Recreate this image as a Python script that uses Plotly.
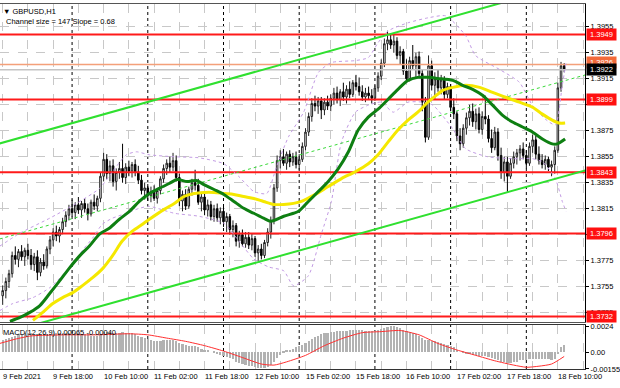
import plotly.graph_objects as go

# ---------------- data ----------------
bar_index = list(range(179))  # H1 bars, 0 = 9 Feb 02:00

opens = [1.3748, 1.3752, 1.3759, 1.3765, 1.3779, 1.3776, 1.3782, 1.3778, 1.3783, 1.3779,
         1.3772, 1.3778, 1.3766, 1.3774, 1.3771, 1.3784, 1.3791, 1.3797, 1.3794, 1.3799,
         1.3805, 1.3810, 1.3815, 1.3812, 1.3818, 1.3814, 1.3819, 1.3815, 1.3811, 1.3820,
         1.3817, 1.3823, 1.3840, 1.3853, 1.3842, 1.3848, 1.3836, 1.3843, 1.3846, 1.3839,
         1.3847, 1.3844, 1.3849, 1.3843, 1.3837, 1.3829, 1.3831, 1.3825, 1.3828, 1.3823,
         1.3829, 1.3838, 1.3846, 1.3850, 1.3847, 1.3852, 1.3839, 1.3821, 1.3826, 1.3817,
         1.3830, 1.3835, 1.3833, 1.3820, 1.3824, 1.3814, 1.3818, 1.3809, 1.3815, 1.3808,
         1.3813, 1.3805, 1.3809, 1.3799, 1.3802, 1.3790, 1.3795, 1.3788, 1.3793, 1.3787,
         1.3792, 1.3781, 1.3784, 1.3779, 1.3789, 1.3797, 1.3806, 1.3831, 1.3852, 1.3855,
         1.3850, 1.3857, 1.3851, 1.3855, 1.3849, 1.3853, 1.3863, 1.3874, 1.3886, 1.3896,
         1.3894, 1.3898, 1.3891, 1.3897, 1.3894, 1.3900, 1.3904, 1.3899, 1.3905, 1.3901,
         1.3907, 1.3903, 1.3912, 1.3909, 1.3905, 1.3901, 1.3904, 1.3902, 1.3900, 1.3908,
         1.3917, 1.3927, 1.3942, 1.3945, 1.3941, 1.3944, 1.3933, 1.3936, 1.3921, 1.3915,
         1.3929, 1.3925, 1.3932, 1.3919, 1.3897, 1.3870, 1.3925, 1.3910, 1.3915, 1.3908,
         1.3914, 1.3903, 1.3909, 1.3893, 1.3888, 1.3871, 1.3865, 1.3877, 1.3885, 1.3890,
         1.3882, 1.3888, 1.3876, 1.3886, 1.3884, 1.3869, 1.3862, 1.3874, 1.3856, 1.3843,
         1.3851, 1.3840, 1.3850, 1.3855, 1.3858, 1.3861, 1.3856, 1.3850, 1.3863, 1.3868,
         1.3857, 1.3852, 1.3849, 1.3853, 1.3847, 1.3849, 1.3860, 1.3908, 1.3925]

highs = [1.3756, 1.3762, 1.3768, 1.3782, 1.3786, 1.3784, 1.3787, 1.3785, 1.3788, 1.3784,
         1.3781, 1.3783, 1.3777, 1.3780, 1.3786, 1.3794, 1.3800, 1.3802, 1.3801, 1.3808,
         1.3813, 1.3818, 1.3822, 1.3820, 1.3824, 1.3821, 1.3823, 1.3819, 1.3822, 1.3826,
         1.3825, 1.3843, 1.3858, 1.3857, 1.3852, 1.3853, 1.3846, 1.3851, 1.3865, 1.3850,
         1.3852, 1.3851, 1.3853, 1.3848, 1.3841, 1.3835, 1.3834, 1.3832, 1.3833, 1.3831,
         1.3840, 1.3849, 1.3853, 1.3855, 1.3858, 1.3856, 1.3842, 1.3829, 1.3830, 1.3832,
         1.3838, 1.3845, 1.3838, 1.3828, 1.3827, 1.3822, 1.3821, 1.3818, 1.3819, 1.3816,
         1.3817, 1.3812, 1.3811, 1.3806, 1.3804, 1.3798, 1.3799, 1.3797, 1.3797, 1.3796,
         1.3794, 1.3787, 1.3788, 1.3791, 1.3800, 1.3809, 1.3834, 1.3856, 1.3860, 1.3861,
         1.3859, 1.3860, 1.3858, 1.3859, 1.3857, 1.3866, 1.3877, 1.3889, 1.3900, 1.3902,
         1.3901, 1.3901, 1.3900, 1.3902, 1.3903, 1.3908, 1.3909, 1.3907, 1.3912, 1.3910,
         1.3913, 1.3914, 1.3918, 1.3916, 1.3910, 1.3908, 1.3909, 1.3907, 1.3910, 1.3920,
         1.3930, 1.3946, 1.3952, 1.3950, 1.3949, 1.3947, 1.3940, 1.3938, 1.3930, 1.3932,
         1.3941, 1.3935, 1.3936, 1.3922, 1.3901, 1.3933, 1.3929, 1.3920, 1.3922, 1.3918,
         1.3917, 1.3912, 1.3911, 1.3900, 1.3890, 1.3877, 1.3880, 1.3889, 1.3895, 1.3896,
         1.3892, 1.3893, 1.3890, 1.3902, 1.3887, 1.3876, 1.3878, 1.3877, 1.3862, 1.3855,
         1.3855, 1.3854, 1.3859, 1.3861, 1.3864, 1.3866, 1.3860, 1.3866, 1.3872, 1.3871,
         1.3863, 1.3857, 1.3856, 1.3855, 1.3852, 1.3863, 1.3912, 1.3928, 1.3927]

lows = [1.3741, 1.3746, 1.3754, 1.3762, 1.3772, 1.3770, 1.3775, 1.3771, 1.3776, 1.3768,
        1.3767, 1.3760, 1.3763, 1.3768, 1.3769, 1.3780, 1.3786, 1.3790, 1.3789, 1.3796,
        1.3801, 1.3806, 1.3809, 1.3807, 1.3811, 1.3808, 1.3812, 1.3806, 1.3809, 1.3814,
        1.3813, 1.3820, 1.3836, 1.3838, 1.3836, 1.3832, 1.3829, 1.3838, 1.3835, 1.3834,
        1.3840, 1.3839, 1.3840, 1.3834, 1.3826, 1.3822, 1.3821, 1.3820, 1.3821, 1.3819,
        1.3826, 1.3835, 1.3841, 1.3843, 1.3844, 1.3836, 1.3817, 1.3813, 1.3814, 1.3815,
        1.3825, 1.3829, 1.3818, 1.3813, 1.3810, 1.3809, 1.3806, 1.3805, 1.3805, 1.3803,
        1.3801, 1.3797, 1.3795, 1.3793, 1.3786, 1.3785, 1.3786, 1.3785, 1.3784, 1.3783,
        1.3778, 1.3775, 1.3776, 1.3777, 1.3786, 1.3792, 1.3803, 1.3828, 1.3846, 1.3848,
        1.3845, 1.3847, 1.3848, 1.3846, 1.3845, 1.3851, 1.3860, 1.3871, 1.3882, 1.3890,
        1.3888, 1.3884, 1.3887, 1.3891, 1.3890, 1.3895, 1.3896, 1.3894, 1.3898, 1.3896,
        1.3900, 1.3901, 1.3906, 1.3902, 1.3898, 1.3897, 1.3899, 1.3896, 1.3898, 1.3905,
        1.3914, 1.3924, 1.3937, 1.3938, 1.3935, 1.3930, 1.3926, 1.3918, 1.3912, 1.3913,
        1.3922, 1.3915, 1.3916, 1.3890, 1.3866, 1.3868, 1.3906, 1.3899, 1.3905, 1.3903,
        1.3899, 1.3900, 1.3890, 1.3884, 1.3867, 1.3860, 1.3862, 1.3872, 1.3879, 1.3878,
        1.3876, 1.3873, 1.3872, 1.3880, 1.3866, 1.3858, 1.3860, 1.3852, 1.3838, 1.3836,
        1.3828, 1.3838, 1.3846, 1.3849, 1.3852, 1.3853, 1.3846, 1.3848, 1.3858, 1.3853,
        1.3849, 1.3846, 1.3845, 1.3844, 1.3840, 1.3842, 1.3858, 1.3905, 1.3920]

closes = [1.3752, 1.3759, 1.3765, 1.3779, 1.3776, 1.3782, 1.3778, 1.3783, 1.3779, 1.3772,
          1.3778, 1.3766, 1.3774, 1.3771, 1.3784, 1.3791, 1.3797, 1.3794, 1.3799, 1.3805,
          1.3810, 1.3815, 1.3812, 1.3818, 1.3814, 1.3819, 1.3815, 1.3811, 1.3820, 1.3817,
          1.3823, 1.3840, 1.3853, 1.3842, 1.3848, 1.3836, 1.3843, 1.3846, 1.3839, 1.3847,
          1.3844, 1.3849, 1.3843, 1.3837, 1.3829, 1.3831, 1.3825, 1.3828, 1.3823, 1.3829,
          1.3838, 1.3846, 1.3850, 1.3847, 1.3852, 1.3839, 1.3821, 1.3826, 1.3817, 1.3830,
          1.3835, 1.3833, 1.3820, 1.3824, 1.3814, 1.3818, 1.3809, 1.3815, 1.3808, 1.3813,
          1.3805, 1.3809, 1.3799, 1.3802, 1.3790, 1.3795, 1.3788, 1.3793, 1.3787, 1.3792,
          1.3781, 1.3784, 1.3779, 1.3789, 1.3797, 1.3806, 1.3831, 1.3852, 1.3855, 1.3850,
          1.3857, 1.3851, 1.3855, 1.3849, 1.3853, 1.3863, 1.3874, 1.3886, 1.3896, 1.3894,
          1.3898, 1.3891, 1.3897, 1.3894, 1.3900, 1.3904, 1.3899, 1.3905, 1.3901, 1.3907,
          1.3903, 1.3912, 1.3909, 1.3905, 1.3901, 1.3904, 1.3902, 1.3900, 1.3908, 1.3917,
          1.3927, 1.3942, 1.3945, 1.3941, 1.3944, 1.3933, 1.3936, 1.3921, 1.3915, 1.3929,
          1.3925, 1.3932, 1.3919, 1.3897, 1.3870, 1.3925, 1.3910, 1.3915, 1.3908, 1.3914,
          1.3903, 1.3909, 1.3893, 1.3888, 1.3871, 1.3865, 1.3877, 1.3885, 1.3890, 1.3882,
          1.3888, 1.3876, 1.3886, 1.3884, 1.3869, 1.3862, 1.3874, 1.3856, 1.3843, 1.3851,
          1.3840, 1.3850, 1.3855, 1.3858, 1.3861, 1.3856, 1.3850, 1.3863, 1.3868, 1.3857,
          1.3852, 1.3849, 1.3853, 1.3847, 1.3849, 1.3860, 1.3908, 1.3925, 1.3922]

# moving averages (bar position, price)
ma_green_x = [2.3, 5.5, 8.6, 11.8, 14.9, 18.1, 21.2, 24.4, 27.5, 30.7, 33.8, 37.0, 40.2, 43.3,
              46.5, 49.6, 52.8, 55.3, 58.5, 61.3, 63.8, 67.0, 70.1, 73.3, 76.4, 79.6, 82.7,
              85.0, 89.1, 92.2, 93.8, 96.9, 100.1, 103.2, 106.4, 109.6, 112.7, 115.9, 119.0,
              122.2, 125.3, 128.5, 131.6, 134.8, 137.9, 142.7, 145.8, 149.0, 152.1, 155.3,
              158.4, 161.6, 164.8, 167.9, 171.1, 174.2, 175.8, 178.3]
ma_green_y = [1.37283, 1.37313, 1.37352, 1.37405, 1.37497, 1.37596, 1.37695, 1.37787, 1.37863,
              1.37955, 1.38000, 1.38069, 1.38130, 1.38206, 1.38267, 1.38306, 1.38344, 1.38374,
              1.38359, 1.38367, 1.38336, 1.38298, 1.38260, 1.38206, 1.38153, 1.38115, 1.38077,
              1.38054, 1.38092, 1.38115, 1.38130, 1.38206, 1.38283, 1.38359, 1.38458, 1.38588,
              1.38756, 1.38855, 1.38916, 1.38993, 1.39069, 1.39138, 1.39161, 1.39161, 1.39153,
              1.39138, 1.39100, 1.39069, 1.39023, 1.38947, 1.38871, 1.38817, 1.38779, 1.38741,
              1.38687, 1.38649, 1.38649, 1.38687]

ma_yellow_x = [9.6, 12.7, 15.9, 19.0, 22.2, 25.3, 28.5, 31.6, 34.8, 37.9, 41.1, 44.3, 46.5,
               51.2, 54.4, 57.5, 60.7, 63.8, 67.0, 70.1, 73.3, 76.4, 79.6, 82.7, 85.9, 89.1,
               92.2, 94.7, 99.1, 103.2, 107.4, 111.8, 115.9, 119.0, 122.2, 125.3, 128.5, 131.6,
               134.8, 137.9, 139.5, 142.7, 146.8, 151.2, 155.3, 159.4, 163.8, 167.9, 171.1,
               174.2, 176.4, 178.3]
ma_yellow_y = [1.37290, 1.37352, 1.37420, 1.37466, 1.37504, 1.37558, 1.37619, 1.37687, 1.37787,
               1.37901, 1.37977, 1.38031, 1.38069, 1.38145, 1.38191, 1.38244, 1.38267, 1.38275,
               1.38275, 1.38267, 1.38260, 1.38244, 1.38229, 1.38206, 1.38183, 1.38183, 1.38191,
               1.38206, 1.38260, 1.38321, 1.38382, 1.38435, 1.38496, 1.38565, 1.38664, 1.38756,
               1.38832, 1.38893, 1.38970, 1.39031, 1.39061, 1.39084, 1.39100, 1.39084, 1.39046,
               1.39008, 1.38970, 1.38932, 1.38878, 1.38832, 1.38809, 1.38809]

# Bollinger bands
bb_upper_x = [-0.85, 5.5, 14.9, 23.4, 30.7, 34.8, 39.2, 42.4, 46.5, 54.4, 62.2, 70.1, 74.9, 79.6,
              83.7, 86.8, 90.6, 95.4, 100.1, 104.2, 111.8, 115.9, 119.0, 122.2, 128.5, 134.8,
              140.5, 146.8, 149.9, 157.5, 163.8, 167.9, 172.0, 175.2, 177.4, 178.6]
bb_upper_y = [1.37863, 1.37962, 1.38077, 1.38191, 1.38306, 1.38435, 1.38565, 1.38588, 1.38565,
              1.38550, 1.38542, 1.38496, 1.38397, 1.38283, 1.38267, 1.38473, 1.38703, 1.38893,
              1.39199, 1.39275, 1.39290, 1.39313, 1.39428, 1.39519, 1.39581, 1.39619, 1.39634,
              1.39481, 1.39329, 1.39222, 1.39123, 1.38947, 1.38840, 1.38794, 1.39100, 1.39275]
bb_lower_x = [-0.85, 3.2, 9.6, 14.9, 20.3, 24.4, 28.5, 31.6, 34.8, 39.2, 43.3, 46.5, 54.4, 62.2,
              70.1, 74.9, 79.6, 84.3, 89.1, 92.2, 96.9, 101.0, 104.2, 107.4, 111.8, 115.9,
              120.0, 123.8, 128.5, 133.2, 136.4, 142.7, 146.8, 153.7, 161.6, 167.9, 171.1,
              175.2, 177.4, 178.6]
bb_lower_y = [1.37367, 1.37420, 1.37466, 1.37542, 1.37672, 1.37802, 1.37924, 1.38031, 1.38077,
              1.38115, 1.38153, 1.38168, 1.38115, 1.38092, 1.38038, 1.37901, 1.37763, 1.37702,
              1.37672, 1.37557, 1.37634, 1.37954, 1.38206, 1.38664, 1.38893, 1.38947, 1.38970,
              1.38893, 1.38970, 1.38970, 1.38947, 1.38764, 1.38611, 1.38550, 1.38535, 1.38535,
              1.38512, 1.38382, 1.38206, 1.38130]

# linear regression channel: 147 pips wide, slope 0.68 pips per bar
channel_start_bar = -1
channel_mid_start = 1.37917
channel_slope = 0.000068
channel_half_width = 0.00735
channel_end_bar = 186

# horizontal levels
levels = [1.3949, 1.3899, 1.3843, 1.3796, 1.3732]
ask_level = 1.3926
bid_level = 1.3922

# MACD(12,26,9) main values per bar (histogram) and signal line samples
macd_main = [0.0011, 0.0012, 0.0013, 0.0014, 0.0015, 0.0016, 0.0016, 0.0017, 0.0017, 0.0017,
             0.0016, 0.0016, 0.0016, 0.0016, 0.0016, 0.0016, 0.0016, 0.0017, 0.0017, 0.0017,
             0.0017, 0.0017, 0.0017, 0.0017, 0.0017, 0.0016, 0.0016, 0.0016, 0.0015, 0.0015,
             0.0015, 0.0016, 0.0018, 0.0018, 0.0018, 0.0017, 0.0017, 0.0017, 0.0018, 0.0017,
             0.0017, 0.0017, 0.0016, 0.0015, 0.0014, 0.0013, 0.0012, 0.0011, 0.0010, 0.0010,
             0.0010, 0.0011, 0.0011, 0.0011, 0.0011, 0.0010, 0.0008, 0.0007, 0.0006, 0.0005,
             0.0005, 0.0005, 0.0004, 0.0003, 0.0002, 0.0001, 0.0000, -0.0001, -0.0002, -0.0003,
             -0.0004, -0.0005, -0.0006, -0.0007, -0.0009, -0.0010, -0.0011, -0.0012, -0.0013, -0.0013,
             -0.0014, -0.0015, -0.0015, -0.0015, -0.0014, -0.0012, -0.0009, -0.0006, -0.0003, -0.0001,
             0.0001, 0.0002, 0.0003, 0.0004, 0.0005, 0.0006, 0.0008, 0.0010, 0.0012, 0.0014,
             0.0015, 0.0016, 0.0017, 0.0017, 0.0018, 0.0018, 0.0019, 0.0019, 0.0019, 0.0019,
             0.0020, 0.0020, 0.0020, 0.0020, 0.0020, 0.0019, 0.0019, 0.0019, 0.0019, 0.0020,
             0.0021, 0.0022, 0.0023, 0.0024, 0.0024, 0.0023, 0.0022, 0.0020, 0.0019, 0.0018,
             0.0017, 0.0016, 0.0015, 0.0013, 0.0011, 0.0011, 0.0010, 0.0010, 0.0009, 0.0008,
             0.0007, 0.0006, 0.0005, 0.0004, 0.0002, 0.0000, -0.0001, -0.0002, -0.0002, -0.0003,
             -0.0003, -0.0004, -0.0004, -0.0004, -0.0005, -0.0006, -0.0007, -0.0008, -0.0009, -0.0009,
             -0.0010, -0.0010, -0.0009, -0.0009, -0.0008, -0.0008, -0.0008, -0.0007, -0.0007, -0.0007,
             -0.0007, -0.0007, -0.0007, -0.0007, -0.0008, -0.0007, -0.0002, 0.0004, 0.00065]
signal_x = [-1, 4, 9, 20, 30, 40, 46, 52, 58, 64, 70, 76, 82, 86, 90, 96, 102, 108, 114, 120,
            126, 132, 138, 144, 150, 156, 162, 166, 170, 174, 178]
signal_y = [0.0008, 0.0012, 0.0015, 0.0016, 0.0016, 0.0017, 0.0016, 0.0013, 0.0010, 0.0006,
            0.0001, -0.0005, -0.0011, -0.0012, -0.0009, -0.0003, 0.0006, 0.0013, 0.0018, 0.0019,
            0.0020, 0.0016, 0.0008, 0.0002, -0.0003, -0.0008, -0.0012, -0.0014, -0.0013, -0.0011,
            -0.0004]

# axis labels
time_tick_bars = [0, 16, 32, 48, 64, 80, 96, 112, 128, 144, 160, 176]
time_tick_labels = ["9 Feb 2021", "9 Feb 18:00", "10 Feb 10:00", "11 Feb 02:00", "11 Feb 18:00",
                    "12 Feb 10:00", "15 Feb 02:00", "15 Feb 18:00", "16 Feb 10:00",
                    "17 Feb 02:00", "17 Feb 18:00", "18 Feb 10:00"]
day_start_bars = [22, 46, 70, 94, 118, 142, 166]
price_ticks = [1.3735, 1.3755, 1.3775, 1.3795, 1.3815, 1.3835, 1.3855, 1.3875, 1.3895, 1.3915,
               1.3935, 1.3955]
price_tick_labels = ["1.3735", "1.3755", "1.3775", "", "1.3815", "1.3835", "1.3855", "1.3875", "",
                     "1.3915", "1.3935", "1.3955"]   # two are hidden behind level boxes
macd_ticks = [0.0024, 0.0, -0.00155]
macd_tick_labels = ["0.0024", "0.00", "-0.00155"]

# ---------------- figure ----------------
FONT = "Liberation Sans, Arial, DejaVu Sans"
W, H = 620, 388
ML, MR, MT, MB = 0, 32, 1, 19
plot_h = H - MT - MB
main_dom = [(H - MB - 322) / plot_h, 1.0]
macd_dom = [0.0, (H - MB - 325) / plot_h]
XR = [-0.85, 184.6]
YR = [1.372752, 1.397256]

fig = go.Figure()

# horizontal levels (drawn first, behind candles)
for lv in levels:
    fig.add_trace(go.Scatter(x=XR, y=[lv, lv], mode="lines", line=dict(color="#ff1a1a", width=2),
                             showlegend=False, hoverinfo="skip", xaxis="x", yaxis="y"))
fig.add_trace(go.Scatter(x=XR, y=[ask_level, ask_level], mode="lines", line=dict(color="#f4a07a", width=1.5),
                         showlegend=False, hoverinfo="skip", xaxis="x", yaxis="y"))
fig.add_trace(go.Scatter(x=XR, y=[bid_level, bid_level], mode="lines", line=dict(color="#c4c4c4", width=1.5),
                         showlegend=False, hoverinfo="skip", xaxis="x", yaxis="y"))

fig.add_trace(go.Candlestick(
    x=bar_index, open=opens, high=highs, low=lows, close=closes,
    increasing=dict(line=dict(color="#202020", width=1), fillcolor="#ffffff"),
    decreasing=dict(line=dict(color="#000000", width=1), fillcolor="#000000"),
    whiskerwidth=0, showlegend=False, hoverinfo="skip", xaxis="x", yaxis="y"))

# Bollinger bands
for bx, by in ((bb_upper_x, bb_upper_y), (bb_lower_x, bb_lower_y)):
    fig.add_trace(go.Scatter(x=bx, y=by, mode="lines",
                             line=dict(color="#c29be3", width=1, dash="dot", shape="spline", smoothing=0.6),
                             showlegend=False, hoverinfo="skip", xaxis="x", yaxis="y"))

# regression channel
ch_x = [channel_start_bar, channel_end_bar]
ch_mid = [channel_mid_start, channel_mid_start + channel_slope * (channel_end_bar - channel_start_bar)]
fig.add_trace(go.Scatter(x=ch_x, y=[v + channel_half_width for v in ch_mid], mode="lines",
                         line=dict(color="#2fe02f", width=2), showlegend=False, hoverinfo="skip"))
fig.add_trace(go.Scatter(x=ch_x, y=[v - channel_half_width for v in ch_mid], mode="lines",
                         line=dict(color="#2fe02f", width=2), showlegend=False, hoverinfo="skip"))
fig.add_trace(go.Scatter(x=ch_x, y=ch_mid, mode="lines",
                         line=dict(color="#3ad83a", width=1, dash="dot"), showlegend=False, hoverinfo="skip"))

# moving averages
fig.add_trace(go.Scatter(x=ma_yellow_x, y=ma_yellow_y, mode="lines",
                         line=dict(color="#f5e800", width=3, shape="spline", smoothing=0.8),
                         showlegend=False, hoverinfo="skip"))
fig.add_trace(go.Scatter(x=ma_green_x, y=ma_green_y, mode="lines",
                         line=dict(color="#0e7f12", width=3, shape="spline", smoothing=0.8),
                         showlegend=False, hoverinfo="skip"))

# MACD
fig.add_trace(go.Bar(x=bar_index, y=macd_main, width=0.7, marker=dict(color="#b2b2b2", line=dict(width=0)),
                     showlegend=False, hoverinfo="skip", xaxis="x2", yaxis="y2"))
fig.add_trace(go.Scatter(x=signal_x, y=signal_y, mode="lines",
                         line=dict(color="#ff3030", width=1, shape="spline", smoothing=0.6),
                         showlegend=False, hoverinfo="skip", xaxis="x2", yaxis="y2"))

shapes = []
for d in day_start_bars:
    shapes.append(dict(type="line", xref="x", yref="paper", x0=d, x1=d, y0=0, y1=1,
                       line=dict(color="#000000", width=1, dash="dot"), layer="below"))

box_font = dict(color="white", size=7.5, family=FONT)
ann = []
for lv in levels:
    ann.append(dict(x=1, xref="paper", xanchor="left", xshift=1, y=lv, yref="y", text=f"{lv:.4f}",
                    showarrow=False, bgcolor="#ff1010", font=box_font, borderpad=1, width=27))
ann.append(dict(x=1, xref="paper", xanchor="left", xshift=1, y=ask_level, yref="y", yshift=2,
                text=f"{ask_level:.4f}", showarrow=False, bgcolor="#f26a3a",
                font=box_font, borderpad=1, width=27))
ann.append(dict(x=1, xref="paper", xanchor="left", xshift=1, y=bid_level, yref="y",
                text=f"{bid_level:.4f}", showarrow=False, bgcolor="#000000",
                font=box_font, borderpad=1, width=27))
for b, t in zip(time_tick_bars, time_tick_labels):
    ann.append(dict(x=b, xref="x2", xanchor="left", xshift=-2, y=0, yref="paper", yanchor="top",
                    yshift=-1, text=t, showarrow=False, font=dict(color="black", size=7.5, family=FONT)))
ann.append(dict(x=0, xref="paper", xanchor="left", xshift=1, y=1, yref="paper", yanchor="top", yshift=-1,
                text="▼ GBPUSD,H1", showarrow=False, font=dict(color="black", size=7.5, family=FONT)))
ann.append(dict(x=0, xref="paper", xanchor="left", xshift=4, y=1, yref="paper", yanchor="top", yshift=-11,
                text="Channel size = 147 Slope = 0.68", showarrow=False,
                font=dict(color="black", size=7.5, family=FONT)))
ann.append(dict(x=0, xref="paper", xanchor="left", xshift=1, y=macd_dom[1], yref="paper", yanchor="top",
                yshift=-1, text="MACD(12,26,9) 0.00065 -0.00040", showarrow=False,
                font=dict(color="black", size=7.5, family=FONT)))

grid = dict(showgrid=True, gridcolor="#c8c8c8", gridwidth=1, griddash="dash")

fig.update_layout(
    width=W, height=H, margin=dict(l=ML, r=MR, t=MT, b=MB),
    paper_bgcolor="white", plot_bgcolor="white",
    font=dict(family=FONT, size=7.5, color="black"),
    showlegend=False, bargap=0,
    shapes=shapes, annotations=ann,
    xaxis=dict(domain=[0, 1], range=XR, anchor="y", tickmode="linear", tick0=0, dtick=8,
               showticklabels=False, ticks="", zeroline=False, showline=True, linecolor="#555555",
               linewidth=1, mirror=True, rangeslider=dict(visible=False), **grid),
    yaxis=dict(domain=main_dom, range=YR, side="right", anchor="x",
               tickmode="array", tickvals=price_ticks, ticktext=price_tick_labels,
               ticks="outside", ticklen=3, tickcolor="#000", showline=True, linecolor="#000",
               zeroline=False, tickfont=dict(size=7.5, family=FONT), **grid),
    xaxis2=dict(domain=[0, 1], range=XR, anchor="y2", tickmode="linear", tick0=0, dtick=8,
                showticklabels=False, ticks="", zeroline=False, showline=True, linecolor="#333333",
                linewidth=1, mirror=True, **grid),
    yaxis2=dict(domain=macd_dom, range=[-0.00156, 0.002477], side="right", anchor="x2",
                tickmode="array", tickvals=macd_ticks, ticktext=macd_tick_labels,
                ticks="outside", ticklen=3, tickcolor="#000", showline=True, linecolor="#000",
                zeroline=False, showgrid=False, tickfont=dict(size=7.5, family=FONT)),
)

fig.write_html("out.html", config={"displayModeBar": False},
               post_script="document.body.style.margin='0px';")
